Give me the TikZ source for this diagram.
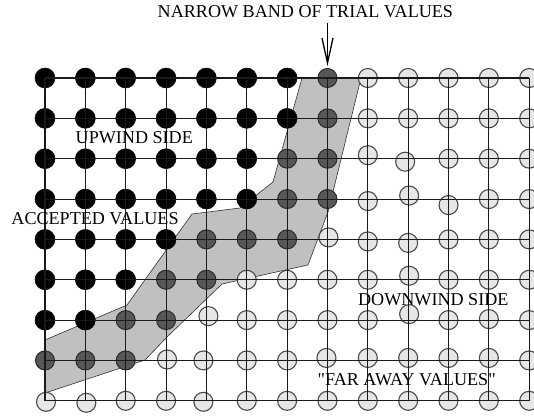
\documentclass[tikz,border=0pt]{standalone}
\usepackage{fontspec}
\setmainfont{Liberation Serif}
\newfontfamily\plainserif{Liberation Serif}
\usetikzlibrary{arrows.meta,calc}
\definecolor{dotdark}{HTML}{575757}
\definecolor{dotdarkedge}{HTML}{2A2A2A}
\definecolor{dotlight}{HTML}{E6E6E6}
\definecolor{dotlightedge}{HTML}{4A4A4A}
\definecolor{gridcol}{HTML}{1A1A1A}
\definecolor{bandfill}{HTML}{C0C0C0}
\definecolor{bandedge}{HTML}{333333}
\begin{document}
\begin{tikzpicture}[x=1pt,y=-1pt,
  blackdot/.style={circle,inner sep=0pt,minimum size=20pt,fill=black,draw=black,line width=0.5pt},
  darkdot/.style={circle,inner sep=0pt,minimum size=19pt,fill=dotdark,draw=dotdarkedge,line width=1pt},
  lightdot/.style={circle,inner sep=0pt,minimum size=19pt,fill=dotlight,draw=dotlightedge,line width=1.1pt},
  gridline/.style={line width=1.05pt,draw=gridcol},
  bandshape/.style={fill=bandfill,draw=bandedge,line width=0.6pt,line join=round},
  lab/.style={anchor=base,inner sep=0pt,font=\plainserif\fontsize{18.1}{20}\selectfont},
  pointer/.style={line width=1.3pt,-{Straight Barb[length=25pt,width=11pt,line width=1.3pt]}}]
\useasboundingbox (0,0) rectangle (534,417);
% grid intersections
\foreach \i in {0,...,12}{\foreach \j in {0,...,8}{
  \coordinate (g-\i-\j) at ({45+40.35*\i},{78+40.35*\j});}}
% narrow band
\draw[bandshape] (302,78) -- (361,78) -- (328,212) -- (308,265) -- (222,284)
  -- (167,337) -- (145,360) -- (45,393) -- (45,340) -- (127,305) -- (192,214)
  -- (240,208) -- (273,182) -- cycle;
% small irregularities of hand placed circles
\foreach \i/\j/\dx/\dy in {8/2/0/-3.5, 9/2/-3/3, 8/3/0/2, 9/3/1/-3.5, 10/3/0/6,
  7/4/1/-2, 8/4/0/2, 9/4/0/3.5, 9/5/1/-4, 9/6/1/-6, 4/6/2/-4, 11/6/0/-1,
  3/7/1/-1, 4/7/-3/0, 7/7/-1/-2.5, 8/7/0/-2.5, 9/7/0/-2.5, 10/7/0/-2.5, 11/7/0/-2.5,
  4/8/-3/1, 0/8/1/1, 1/8/1/2}{
  \expandafter\xdef\csname jit@\i @\j\endcsname{\dx,\dy}}
% circles
\foreach \j/\b/\d in {0/6/7, 1/6/7, 2/5/7, 3/5/7, 4/3/6, 5/2/4, 6/1/3, 7/-1/2, 8/-1/-1}{
  \foreach \i in {0,...,12}{
    \ifnum\i>\d\relax \def\st{lightdot}\else\ifnum\i>\b\relax \def\st{darkdot}\else\def\st{blackdot}\fi\fi
    \ifcsname jit@\i @\j\endcsname \edef\sh{\csname jit@\i @\j\endcsname}\else\def\sh{0,0}\fi
    \node[\st] (n-\i-\j) at ($(g-\i-\j)+(\sh)$) {};
  }}
% grid lines
\foreach \j in {0,...,8}{\draw[gridline] (g-0-\j) -- (g-12-\j);}
\foreach \i in {0,...,12}{\draw[gridline] (g-\i-0) -- (g-\i-8);}
% labels
\node[lab] (title) at (305.4,17.7) {NARROW BAND OF TRIAL VALUES};
\coordinate (arrtop) at (327.5,23);
\coordinate (arrtip) at (327.5,66);
\draw[pointer] (arrtop) -- (arrtip);
\node[lab] (upwind) at (134.3,143.3) {UPWIND SIDE};
\node[lab] (accepted) at (95,224.7) {ACCEPTED VALUES};
\node[lab] (downwind) at (433.3,305) {DOWNWIND SIDE};
\node[lab] (faraway) at (406.7,385) {"FAR AWAY VALUES"};
\end{tikzpicture}
\end{document}
